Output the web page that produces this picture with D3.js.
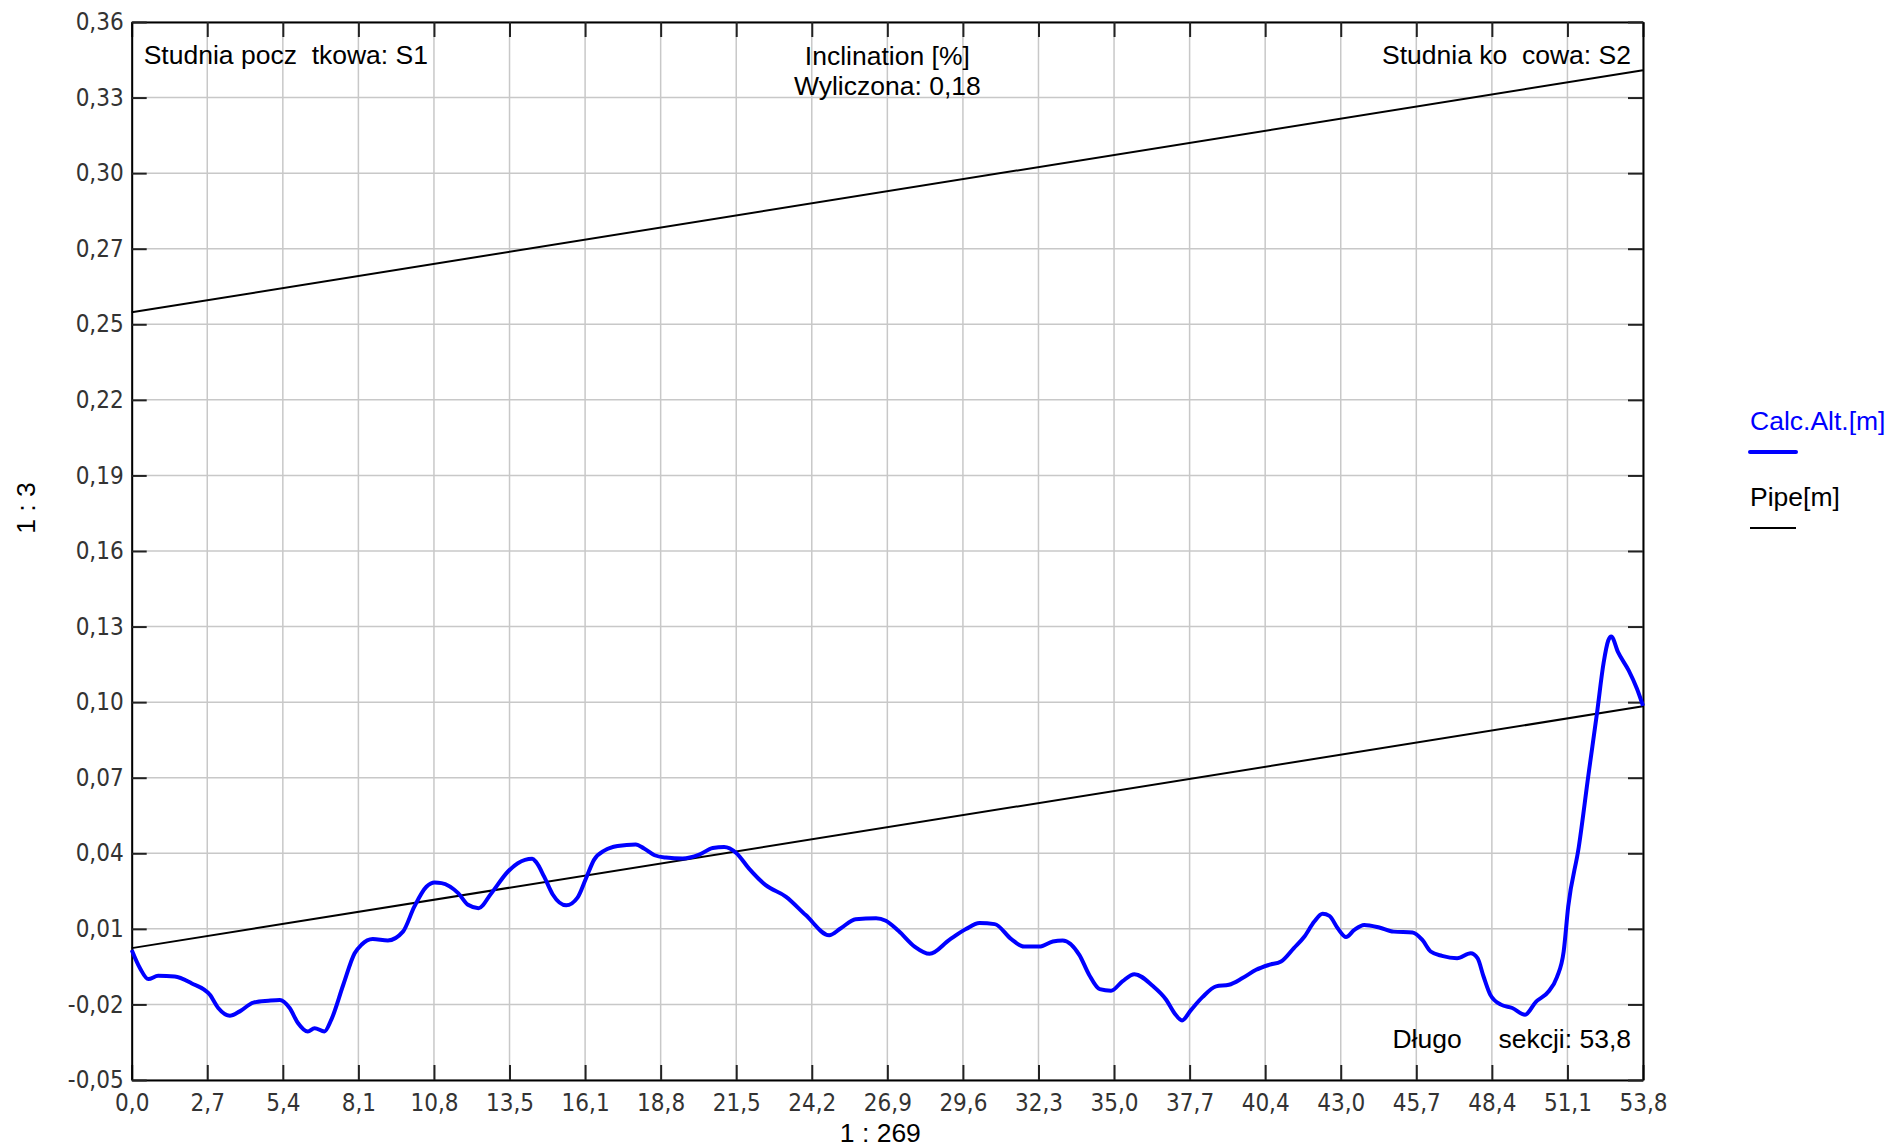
<!DOCTYPE html>
<html><head><meta charset="utf-8">
<script src="https://cdn.jsdelivr.net/npm/d3@7/dist/d3.min.js"></script>
<style>body{margin:0;background:#fff;overflow:hidden}</style>
</head><body>
<svg id="chart" width="1896" height="1147"></svg>
<script>
// ---------- data ----------
const xTickLabels = ["0,0","2,7","5,4","8,1","10,8","13,5","16,1","18,8","21,5","24,2","26,9","29,6","32,3","35,0","37,7","40,4","43,0","45,7","48,4","51,1","53,8"];
const yTickLabels = ["-0,05","-0,02","0,01","0,04","0,07","0,10","0,13","0,16","0,19","0,22","0,25","0,27","0,30","0,33","0,36"];
const xMax = 53.8;
const yMin = -0.05, yMax = 0.36;

const distance = [0.000,0.296,0.592,0.942,1.533,2.125,2.784,3.080,3.497,3.847,4.331,4.869,5.272,5.622,5.918,6.268,6.510,6.860,7.102,7.532,7.936,8.178,8.581,9.119,9.657,10.061,10.491,10.787,11.029,11.621,11.971,12.347,12.804,13.396,13.746,14.257,14.392,14.687,14.983,15.468,15.871,16.167,16.463,16.839,17.297,17.942,18.238,18.615,19.018,19.610,20.202,20.686,21.090,21.520,21.977,22.569,23.295,23.995,24.829,25.232,25.770,26.497,26.846,27.304,27.868,28.406,29.106,29.698,30.182,30.720,31.312,31.769,32.307,32.791,33.141,33.733,34.082,34.459,34.862,35.266,35.696,36.342,36.826,37.122,37.391,37.714,38.117,38.602,39.059,39.543,40.027,40.485,40.915,41.372,41.749,42.099,42.394,42.637,42.932,43.228,43.524,43.874,44.412,44.923,45.596,45.945,46.241,46.645,47.183,47.667,47.909,48.124,48.366,48.743,49.146,49.604,49.980,50.438,50.733,50.976,51.137,51.514,51.863,52.159,52.401,52.563,52.670,52.912,53.289,53.585,53.800];
const calcAlt = [0.0004,-0.0067,-0.0109,-0.0096,-0.0099,-0.0125,-0.0170,-0.0221,-0.0251,-0.0234,-0.0200,-0.0193,-0.0190,-0.0221,-0.0279,-0.0312,-0.0299,-0.0312,-0.0267,-0.0131,-0.0009,0.0024,0.0046,0.0041,0.0075,0.0172,0.0249,0.0265,0.0263,0.0224,0.0179,0.0166,0.0224,0.0308,0.0340,0.0357,0.0345,0.0287,0.0220,0.0177,0.0207,0.0280,0.0354,0.0390,0.0407,0.0413,0.0397,0.0371,0.0362,0.0358,0.0373,0.0399,0.0403,0.0380,0.0319,0.0255,0.0210,0.0139,0.0061,0.0087,0.0123,0.0127,0.0117,0.0077,0.0017,-0.0011,0.0043,0.0085,0.0108,0.0104,0.0046,0.0017,0.0017,0.0037,0.0041,-0.0015,-0.0092,-0.0148,-0.0154,-0.0118,-0.0090,-0.0135,-0.0189,-0.0241,-0.0269,-0.0228,-0.0179,-0.0137,-0.0131,-0.0105,-0.0073,-0.0054,-0.0041,0.0011,0.0056,0.0114,0.0144,0.0136,0.0088,0.0054,0.0082,0.0101,0.0091,0.0075,0.0072,0.0043,-0.0002,-0.0019,-0.0028,-0.0009,-0.0028,-0.0099,-0.0170,-0.0208,-0.0221,-0.0247,-0.0198,-0.0157,-0.0102,-0.0002,0.0171,0.0403,0.0687,0.0919,0.1119,0.1203,0.1219,0.1158,0.1087,0.1016,0.0950];

const pipeDist = [0, 53.8];
const pipeBottom = [0.0011, 0.0948];
const pipeTop = [0.2475, 0.3413];

const labelStart = "Studnia pocz\u00A0\u00A0tkowa: S1";
const labelEnd = "Studnia ko\u00A0\u00A0cowa: S2";
const labelTitle1 = "Inclination [%]";
const labelTitle2 = "Wyliczona: 0,18";
const labelLength = "D\u0142ugo\u00A0\u00A0\u00A0\u00A0\u00A0sekcji: 53,8";
const xScaleLabel = "1 : 269";
const yScaleLabel = "1 : 3";
const legendNames = ["Calc.Alt.[m]", "Pipe[m]"];
const legendColors = ["#0000ff", "#000000"];

// ---------- layout ----------
const L = 131.7, R = 1643, T = 22, B = 1080;
const svg = d3.select("#chart");
const x = d3.scaleLinear().domain([0, xMax]).range([L, R]);
const y = d3.scaleLinear().domain([yMin, yMax]).range([B, T]);
const xTicks = d3.range(xTickLabels.length).map(i => i * xMax / (xTickLabels.length - 1));
const yTicks = d3.range(yTickLabels.length).map(i => yMin + i * (yMax - yMin) / (yTickLabels.length - 1));

const sans = "'Liberation Sans', Arial, sans-serif";
const narrow = "'Liberation Sans Narrow', 'DejaVu Sans Condensed', sans-serif";
const FS = 26.5;

// grid
const grid = svg.append("g");
grid.selectAll(".vg").data(xTicks).join("line")
  .attr("x1", d => x(d)).attr("x2", d => x(d)).attr("y1", T).attr("y2", B)
  .attr("stroke", "#c8c8c8").attr("stroke-width", 1.5);
grid.selectAll(".hg").data(yTicks).join("line")
  .attr("x1", L).attr("x2", R).attr("y1", d => y(d)).attr("y2", d => y(d))
  .attr("stroke", "#c8c8c8").attr("stroke-width", 1.5);

// axes with inward ticks
const fmtX = (d, i) => xTickLabels[i];
const fmtY = (d, i) => yTickLabels[i];
const axB = svg.append("g").attr("transform", `translate(0,${B})`)
  .call(d3.axisBottom(x).tickValues(xTicks).tickFormat(fmtX).tickSizeInner(-15).tickSizeOuter(0).tickPadding(14));
const axT = svg.append("g").attr("transform", `translate(0,${T})`)
  .call(d3.axisTop(x).tickValues(xTicks).tickFormat("").tickSizeInner(-15).tickSizeOuter(0));
const axL = svg.append("g").attr("transform", `translate(${L},0)`)
  .call(d3.axisLeft(y).tickValues(yTicks).tickFormat(fmtY).tickSizeInner(-15).tickSizeOuter(0).tickPadding(8));
const axR = svg.append("g").attr("transform", `translate(${R},0)`)
  .call(d3.axisRight(y).tickValues(yTicks).tickFormat("").tickSizeInner(-15).tickSizeOuter(0));
[axB, axT, axL, axR].forEach(a => {
  a.select(".domain").attr("stroke", "#000").attr("stroke-width", 2);
  a.selectAll(".tick line").attr("stroke", "#222").attr("stroke-width", 2);
  a.selectAll(".tick text").attr("font-family", narrow).attr("font-size", 24).attr("fill", "#333");
});
axB.selectAll(".tick text").attr("dy", "0.71em");

// pipe lines
const pipeLine = d3.line().x(d => x(d[0])).y(d => y(d[1]));
[pipeTop, pipeBottom].forEach(vals => {
  svg.append("path").datum(pipeDist.map((d, i) => [d, vals[i]]))
    .attr("d", pipeLine).attr("fill", "none").attr("stroke", "#000").attr("stroke-width", 2);
});

// calc alt curve
const altLine = d3.line().x(d => x(d[0])).y(d => y(d[1])).curve(d3.curveMonotoneX);
svg.append("path").datum(distance.map((d, i) => [d, calcAlt[i]]))
  .attr("d", altLine).attr("fill", "none").attr("stroke", "#0000ff")
  .attr("stroke-width", 4).attr("stroke-linejoin", "round");

// annotations
const txt = (s, tx, ty, anchor) => svg.append("text").text(s)
  .attr("x", tx).attr("y", ty).attr("text-anchor", anchor)
  .attr("font-family", sans).attr("font-size", FS).attr("fill", "#000");
txt(labelStart, L + 12, 64, "start");
txt(labelEnd, R - 12, 64, "end");
txt(labelTitle1, (L + R) / 2, 65, "middle");
txt(labelTitle2, (L + R) / 2, 95, "middle");
txt(labelLength, R - 12, 1048, "end");
txt(xScaleLabel, (L + R) / 2 - 7, 1142, "middle");
svg.append("text").text(yScaleLabel)
  .attr("transform", `translate(35,508) rotate(-90)`).attr("text-anchor", "middle")
  .attr("font-family", sans).attr("font-size", FS).attr("fill", "#000");

// legend
const leg = svg.append("g");
legendNames.forEach((n, i) => {
  const gy = 430 + i * 76;
  leg.append("text").text(n).attr("x", 1750).attr("y", gy)
    .attr("font-family", sans).attr("font-size", FS).attr("fill", legendColors[i]);
  leg.append("line").attr("x1", 1750).attr("x2", 1796).attr("y1", gy + 22).attr("y2", gy + 22)
    .attr("stroke", legendColors[i]).attr("stroke-width", i === 0 ? 4 : 2)
    .attr("stroke-linecap", i === 0 ? "round" : "butt");
});
</script>
</body></html>
